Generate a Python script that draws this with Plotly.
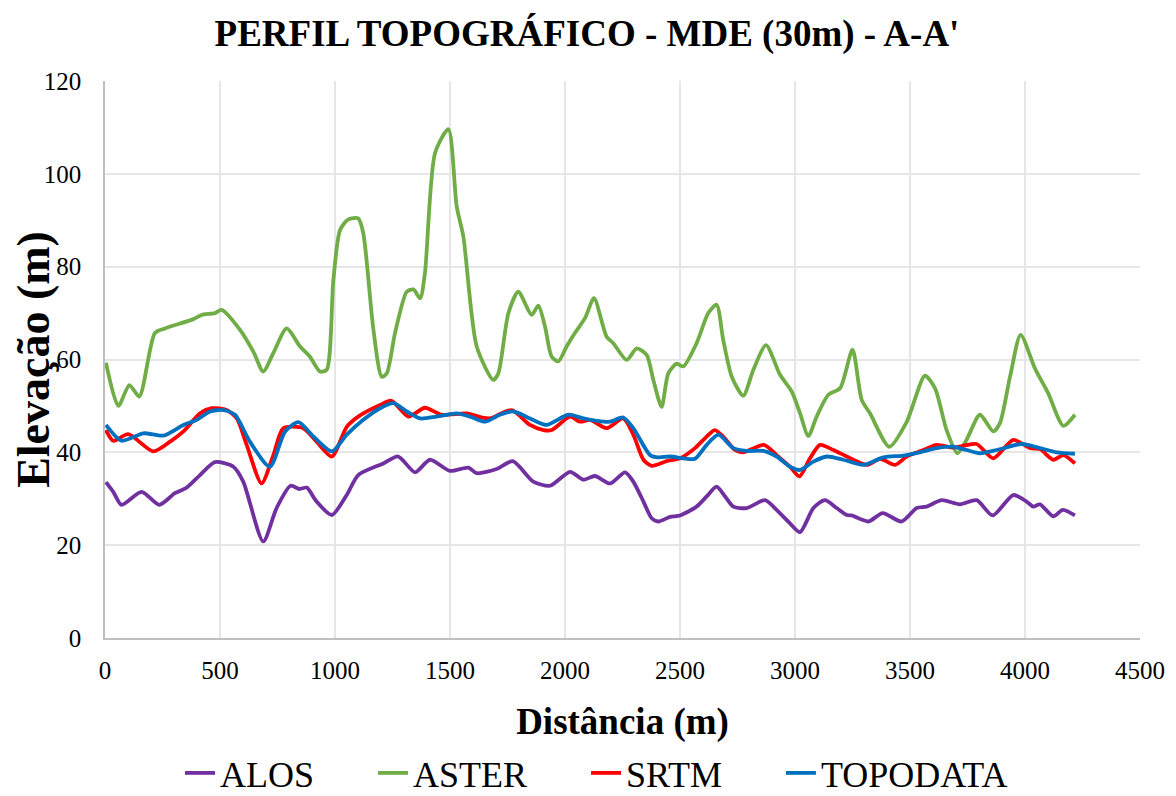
import plotly.graph_objects as go

# ---------------- data ----------------
alos_x = [4, 36, 72, 159, 236, 304, 355, 413, 478, 558, 601, 688, 746, 807, 845, 877, 920, 986,
          1051, 1101, 1210, 1275, 1348, 1413, 1500, 1580, 1616, 1703, 1773, 1862, 1935, 2022, 2080,
          2130, 2196, 2261, 2297, 2341, 2377, 2406, 2457, 2500, 2572, 2616, 2659, 2696, 2732, 2790,
          2870, 2920, 2978, 3022, 3080, 3130, 3181, 3225, 3246, 3319, 3381, 3464, 3529, 3572, 3638,
          3717, 3790, 3859, 3949, 4007, 4036, 4065, 4123, 4164, 4217]
alos_y = [33.6, 31.5, 28.7, 31.5, 28.7, 31.2, 32.4, 35.1, 37.9, 36.9, 33.7, 20.8, 28.0, 32.8, 32.1,
          32.4, 29.4, 26.5, 30.8, 35.1, 37.6, 39.1, 35.7, 38.4, 36.0, 36.7, 35.5, 36.4, 38.1, 33.7,
          32.8, 35.8, 34.1, 34.9, 33.3, 35.7, 33.7, 29.4, 25.8, 25.1, 26.1, 26.4, 28.3, 30.5, 32.6,
          30.5, 28.3, 28.0, 29.7, 27.6, 24.7, 22.8, 28.0, 29.7, 28.0, 26.5, 26.4, 25.1, 26.9, 25.1,
          28.0, 28.3, 29.7, 28.8, 29.7, 26.4, 30.8, 29.4, 28.3, 28.8, 26.2, 27.6, 26.4]

aster_x = [4, 58, 106, 149, 217, 261, 384, 420, 478, 507, 587, 645, 688, 732, 790, 848, 891, 935,
           964, 993, 1022, 1058, 1101, 1123, 1167, 1203, 1225, 1261, 1312, 1341, 1370, 1391, 1435,
           1493, 1529, 1558, 1616, 1688, 1710, 1754, 1797, 1855, 1884, 1913, 1942, 1971, 2007, 2043,
           2087, 2126, 2181, 2210, 2268, 2312, 2355, 2384, 2420, 2449, 2486, 2514, 2572, 2623, 2659,
           2688, 2725, 2775, 2819, 2874, 2935, 2986, 3022, 3058, 3094, 3145, 3196, 3250, 3290, 3326,
           3410, 3486, 3565, 3609, 3659, 3706, 3746, 3804, 3862, 3891, 3935, 3981, 4043, 4101, 4167,
           4217]
aster_y = [59.3, 50.0, 54.5, 52.0, 65.7, 66.7, 68.7, 69.6, 70.0, 70.7, 66.4, 61.7, 57.4, 61.4, 66.7,
           62.8, 60.6, 57.4, 57.8, 77.2, 87.9, 90.2, 90.4, 87.2, 66.4, 56.3, 57.0, 65.7, 74.6, 75.1,
           73.2, 78.6, 104.5, 109.6, 93.0, 86.5, 62.8, 55.6, 57.0, 70.0, 74.6, 69.6, 71.6, 67.1, 60.6,
           59.6, 62.8, 65.7, 68.9, 73.2, 64.9, 63.5, 59.9, 62.4, 61.0, 55.6, 49.8, 57.0, 59.1, 58.5,
           63.5, 70.0, 71.8, 64.2, 56.3, 52.2, 57.8, 63.1, 56.7, 53.1, 48.4, 43.5, 47.7, 52.4, 53.8,
           62.1, 51.3, 48.4, 41.2, 46.6, 56.5, 53.8, 44.8, 39.8, 42.7, 48.1, 44.5, 46.3, 56.3, 65.3,
           58.1, 52.7, 45.7, 48.1]

srtm_x = [4, 36, 101, 210, 283, 341, 413, 464, 529, 573, 616, 681, 732, 775, 862, 920, 986, 1051,
          1101, 1196, 1246, 1319, 1391, 1464, 1572, 1638, 1674, 1768, 1848, 1906, 1942, 2022, 2065,
          2109, 2181, 2253, 2297, 2341, 2377, 2442, 2500, 2565, 2616, 2652, 2688, 2739, 2775, 2865,
          2920, 2978, 3019, 3065, 3109, 3167, 3225, 3312, 3370, 3435, 3486, 3558, 3616, 3688, 3739,
          3790, 3862, 3949, 4022, 4065, 4123, 4167, 4217]
srtm_y = [44.8, 42.5, 43.9, 40.2, 42.3, 44.5, 48.4, 49.5, 49.1, 47.3, 41.6, 33.3, 39.4, 45.2, 45.2,
          42.3, 39.1, 45.5, 47.7, 50.2, 51.1, 47.7, 49.6, 48.1, 48.4, 47.5, 47.3, 49.1, 45.9, 44.8,
          44.8, 47.7, 46.6, 47.0, 45.2, 47.3, 43.8, 38.4, 37.1, 38.1, 38.7, 40.9, 43.4, 44.8, 43.4,
          40.5, 40.0, 41.6, 39.4, 36.9, 34.8, 38.7, 41.6, 40.5, 39.1, 37.3, 38.6, 37.3, 39.1, 40.5,
          41.6, 41.0, 41.5, 41.8, 38.7, 42.7, 40.9, 40.7, 38.4, 39.4, 37.6]

topo_x = [4, 72, 167, 254, 341, 399, 457, 514, 565, 630, 717, 783, 841, 906, 986, 1051, 1123, 1196,
          1254, 1312, 1370, 1442, 1529, 1587, 1652, 1717, 1775, 1848, 1920, 2014, 2080, 2138, 2196,
          2253, 2297, 2370, 2406, 2457, 2514, 2565, 2616, 2667, 2732, 2790, 2862, 2920, 2978, 3022,
          3080, 3138, 3210, 3297, 3384, 3471, 3543, 3616, 3688, 3746, 3804, 3877, 3986, 4065, 4138,
          4217]
topo_y = [45.9, 42.5, 44.1, 43.6, 45.9, 47.0, 48.8, 49.1, 48.1, 42.3, 36.9, 44.5, 46.5, 43.4, 40.2,
          43.8, 47.0, 49.5, 50.6, 48.8, 47.3, 47.7, 48.4, 47.7, 46.6, 48.1, 48.8, 47.3, 45.9, 48.1,
          47.3, 46.8, 46.6, 47.5, 45.2, 39.4, 38.9, 39.1, 38.7, 38.6, 41.6, 43.8, 40.9, 40.3, 40.3,
          39.1, 36.9, 36.2, 38.0, 39.1, 38.4, 37.3, 38.9, 39.3, 40.0, 40.9, 41.2, 40.5, 39.8, 40.5,
          41.8, 40.9, 40.0, 39.7]

series_names = ["ALOS", "ASTER", "SRTM", "TOPODATA"]
series_colors = ["#7030A0", "#70AD47", "#FF0000", "#0070C0"]

title_text = "PERFIL TOPOGRÁFICO - MDE (30m) - A-A'"
x_title = "Distância (m)"
y_title = "Elevação (m)"
x_ticks = [0, 500, 1000, 1500, 2000, 2500, 3000, 3500, 4000, 4500]
y_ticks = [0, 20, 40, 60, 80, 100, 120]

# ---------------- figure ----------------
FONT = "Liberation Serif"
OFF = 8                      # default page margin around the plot div
W, H = 1176 - OFF, 796 - OFF
PAD = "\u00a0" * 6           # spacing after each legend entry (all but the last)
fig = go.Figure()
for i, (name, color, xs, ys) in enumerate(zip(series_names, series_colors,
                                              [alos_x, aster_x, srtm_x, topo_x],
                                              [alos_y, aster_y, srtm_y, topo_y])):
    label = name + (PAD if i < len(series_names) - 1 else "")
    fig.add_trace(go.Scatter(x=xs, y=ys, name=label, mode="lines",
                             line=dict(color=color, width=3.8, shape="spline", smoothing=0.7)))

fig.update_layout(
    width=W, height=H,
    paper_bgcolor="white", plot_bgcolor="white",
    margin=dict(l=105 - OFF, r=36, t=81 - OFF, b=158, autoexpand=False),
    font=dict(family=FONT, color="black"),
    title=dict(text="<b>" + title_text + "</b>", xref="container", x=(587 - OFF) / W,
               xanchor="center", yref="container", y=1 - (33 - OFF) / H, yanchor="middle",
               font=dict(size=37, family=FONT, color="black")),
    legend=dict(orientation="h", xref="container", x=(180 - OFF) / W, xanchor="left",
                yref="container", y=1 - (773 - OFF) / H, yanchor="middle",
                font=dict(size=36, family=FONT, color="black"), itemwidth=30,
                bgcolor="rgba(0,0,0,0)", borderwidth=0),
    showlegend=True,
)
fig.update_xaxes(range=[0, 4500], tickvals=x_ticks, ticktext=[str(v) for v in x_ticks],
                 showgrid=True, gridcolor="#E6E6E6", gridwidth=1.5, automargin=False,
                 showline=True, linecolor="#BFBFBF", linewidth=1.5,
                 zeroline=False, ticks="", ticklabelstandoff=9,
                 tickfont=dict(size=25, family=FONT, color="black"),
                 title=dict(text="<b>" + x_title + "</b>", font=dict(size=37, family=FONT, color="black"),
                            standoff=27))
fig.update_yaxes(range=[0, 120], tickvals=y_ticks, ticktext=[str(v) for v in y_ticks],
                 showgrid=True, gridcolor="#E6E6E6", gridwidth=1.5, automargin=False,
                 showline=True, linecolor="#BFBFBF", linewidth=1.5,
                 zeroline=False, ticks="", ticklabelstandoff=17,
                 tickfont=dict(size=25, family=FONT, color="black"),
                 title=dict(text="<b>" + y_title + "</b>", font=dict(size=46, family=FONT, color="black"),
                            standoff=18))

fig.write_html("out.html")
